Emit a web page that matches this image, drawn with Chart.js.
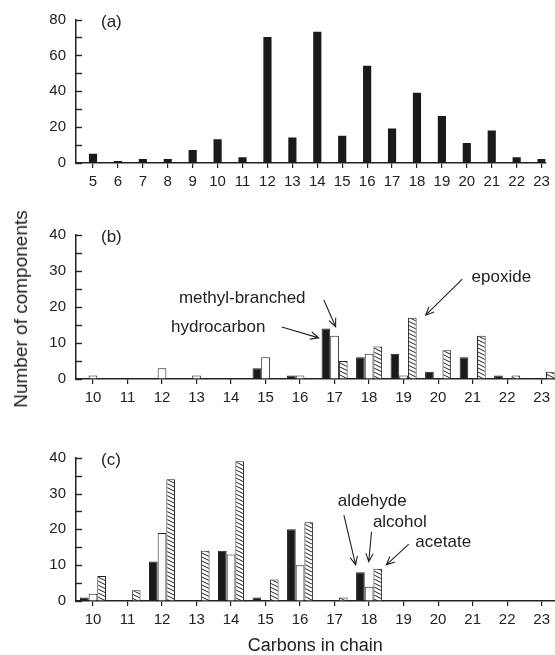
<!DOCTYPE html>
<html>
<head>
<meta charset="utf-8">
<script src="https://cdn.jsdelivr.net/npm/chart.js@4.4.0/dist/chart.umd.min.js"></script>
<style>
  body { margin: 0; background: #fff; width: 555px; height: 655px; position: relative; overflow: hidden;
         font-family: "Liberation Sans", Arial, Helvetica, sans-serif; color: #222; }
  canvas { position: absolute; left: 0; }
  #ytitle { position: absolute; left: 21px; top: 309px; transform: translate(-50%, -50%) rotate(-90deg);
            font-size: 19px; white-space: nowrap; }
</style>
</head>
<body>
<canvas id="chartA" width="555" height="195" style="top:0"></canvas>
<canvas id="chartB" width="555" height="205" style="top:205px"></canvas>
<canvas id="chartC" width="555" height="235" style="top:420px"></canvas>
<div id="ytitle">Number of components</div>
<script>
// (a) all components
const carbonsA = [5, 6, 7, 8, 9, 10, 11, 12, 13, 14, 15, 16, 17, 18, 19, 20, 21, 22, 23];
const countsA  = [5, 1, 2, 2, 7, 13, 3, 70, 14, 73, 15, 54, 19, 39, 26, 11, 18, 3, 2];

// (b) and (c) share the same carbon range
const carbonsBC = [10, 11, 12, 13, 14, 15, 16, 17, 18, 19, 20, 21, 22, 23];
const hydrocarbon    = [0, 0, 0, 0, 0, 3, 1, 14, 6, 7, 2, 6, 1, 0];
const methylBranched = [1, 0, 3, 1, 0, 6, 1, 12, 7, 1, 0, 0, 0, 0];
const epoxide        = [0, 0, 0, 0, 0, 0, 0, 5, 9, 17, 8, 12, 1, 2];
const aldehyde = [1, 0, 11, 0, 14, 1, 20, 0, 8, 0, 0, 0, 0, 0];
const alcohol  = [2, 0, 19, 0, 13, 0, 10, 0, 4, 0, 0, 0, 0, 0];
const acetate  = [7, 3, 34, 14, 39, 6, 22, 1, 9, 0, 0, 0, 0, 0];

const ink = "#222";
const font = "'Liberation Sans', Arial, Helvetica, sans-serif";

function hatch() {
    const c = document.createElement("canvas");
    c.width = 8; c.height = 4;
    const g = c.getContext("2d");
    g.fillStyle = "#fff";
    g.fillRect(0, 0, 8, 4);
    g.strokeStyle = ink;
    g.lineWidth = 1;
    for (let k = -2; k <= 2; k++) {
        g.beginPath();
        g.moveTo(-8, -4 + 4 * k);
        g.lineTo(16, 8 + 4 * k);
        g.stroke();
    }
    return document.createElement("canvas").getContext("2d").createPattern(c, "repeat");
}
const hatchFill = hatch();

function pts(xs, ys) {
    return xs.map((x, i) => ({ x: x, y: ys[i] }));
}

function arrow(ctx, x1, y1, x2, y2) {
    const a = Math.atan2(y2 - y1, x2 - x1);
    const h = 9, s = 0.42;
    ctx.beginPath();
    ctx.moveTo(x1, y1);
    ctx.lineTo(x2, y2);
    ctx.moveTo(x2 - h * Math.cos(a - s), y2 - h * Math.sin(a - s));
    ctx.lineTo(x2, y2);
    ctx.lineTo(x2 - h * Math.cos(a + s), y2 - h * Math.sin(a + s));
    ctx.stroke();
}

// panel letter, inward y ticks, and text/arrow notes placed in data units
function notesPlugin(label, notes) {
    return {
        id: "notes" + label,
        afterDraw(chart) {
            const ctx = chart.ctx, area = chart.chartArea;
            const sx = chart.scales.x, sy = chart.scales.y;
            ctx.save();
            ctx.fillStyle = ink;
            ctx.strokeStyle = ink;
            ctx.lineWidth = 1.4;
            for (let v = sy.min; v <= sy.max; v += sy.options.ticks.stepSize) {
                const py = Math.round(sy.getPixelForValue(v)) + 0.5;
                ctx.beginPath();
                ctx.moveTo(area.left - 1, py);
                ctx.lineTo(area.left + 6, py);
                ctx.stroke();
            }
            ctx.lineWidth = 1.1;
            ctx.font = "17px " + font;
            ctx.textBaseline = "middle";
            ctx.textAlign = "left";
            ctx.fillText(label, area.left + 25, area.top + 3);
            notes.forEach(n => {
                if (n.text) {
                    ctx.fillText(n.text, sx.getPixelForValue(n.x), sy.getPixelForValue(n.y));
                } else {
                    arrow(ctx, sx.getPixelForValue(n.x1), sy.getPixelForValue(n.y1),
                               sx.getPixelForValue(n.x2), sy.getPixelForValue(n.y2));
                }
            });
            ctx.restore();
        }
    };
}

function scalesFor(xmin, xmax, xcats, ymax, ystep, ylabStep, xHeight, title) {
    return {
        x: {
            type: "linear", min: xmin, max: xmax, offset: false,
            afterBuildTicks: s => { s.ticks = xcats.map(v => ({ value: v })); },
            afterFit: s => { s.height = xHeight; },
            grid: { offset: false, drawOnChartArea: false, tickLength: 5, color: ink, lineWidth: 1.2 },
            border: { display: true, color: ink, width: 1.5 },
            ticks: { color: ink, padding: 5, font: { size: 15, family: font }, maxRotation: 0,
                     callback: v => v },
            title: title ? { display: true, text: title, color: ink, padding: 0,
                             font: { size: 18, family: font, lineHeight: 1.0 } } : { display: false }
        },
        y: {
            min: 0, max: ymax,
            afterFit: s => { s.width = 76; },
            grid: { drawOnChartArea: false, drawTicks: false },
            border: { display: true, color: ink, width: 1.5 },
            ticks: { stepSize: ystep, color: ink, padding: 10, font: { size: 15, family: font },
                     callback: v => (v % ylabStep === 0 ? v : "") }
        }
    };
}

const baseOpts = {
    responsive: false,
    animation: false,
    plugins: { legend: { display: false }, tooltip: { enabled: false } }
};

new Chart(document.getElementById("chartA"), {
    type: "bar",
    data: {
        datasets: [{
            data: pts(carbonsA, countsA),
            backgroundColor: "#1a1a1a",
            barThickness: 7.5
        }]
    },
    options: Object.assign({}, baseOpts, {
        layout: { padding: { top: 19.5, right: 9, left: 0, bottom: 0 } },
        scales: scalesFor(4.318, 23.16, carbonsA, 80, 10, 20, 32)
    }),
    plugins: [notesPlugin("(a)", [])]
});

function groupSets(a, b, c) {
    const common = { borderColor: ink, borderWidth: 1, categoryPercentage: 0.755, barPercentage: 1 };
    return [
        Object.assign({ data: pts(carbonsBC, a), backgroundColor: "#1a1a1a" }, common),
        Object.assign({ data: pts(carbonsBC, b), backgroundColor: "#fff" }, common),
        Object.assign({ data: pts(carbonsBC, c), backgroundColor: hatchFill }, common)
    ];
}

new Chart(document.getElementById("chartB"), {
    type: "bar",
    data: { datasets: groupSets(hydrocarbon, methylBranched, epoxide) },
    options: Object.assign({}, baseOpts, {
        layout: { padding: { top: 29.7, right: 0, left: 0, bottom: 0 } },
        scales: scalesFor(9.508, 23.376, carbonsBC, 40, 5, 10, 31)
    }),
    plugins: [notesPlugin("(b)", [
        { text: "methyl-branched", x: 12.49, y: 22.4 },
        { text: "hydrocarbon", x: 12.26, y: 14.4 },
        { x1: 15.47, y1: 14.4, x2: 16.54, y2: 11.4 },
        { x1: 16.69, y1: 21.9, x2: 17.03, y2: 14.5 },
        { text: "epoxide", x: 20.97, y: 28.3 },
        { x1: 20.70, y1: 27.7, x2: 19.64, y2: 17.7 }
    ])]
});

new Chart(document.getElementById("chartC"), {
    type: "bar",
    data: { datasets: groupSets(aldehyde, alcohol, acetate) },
    options: Object.assign({}, baseOpts, {
        layout: { padding: { top: 37.7, right: 0, left: 0, bottom: 0 } },
        scales: scalesFor(9.508, 23.376, carbonsBC, 40, 5, 10, 54, "Carbons in chain")
    }),
    plugins: [notesPlugin("(c)", [
        { text: "aldehyde", x: 17.09, y: 27.7 },
        { x1: 17.27, y1: 24.0, x2: 17.61, y2: 10.1 },
        { text: "alcohol", x: 18.11, y: 22.1 },
        { x1: 18.07, y1: 19.3, x2: 17.99, y2: 11.0 },
        { text: "acetate", x: 19.34, y: 16.5 },
        { x1: 19.15, y1: 15.9, x2: 18.50, y2: 10.1 }
    ])]
});
</script>
</body>
</html>
